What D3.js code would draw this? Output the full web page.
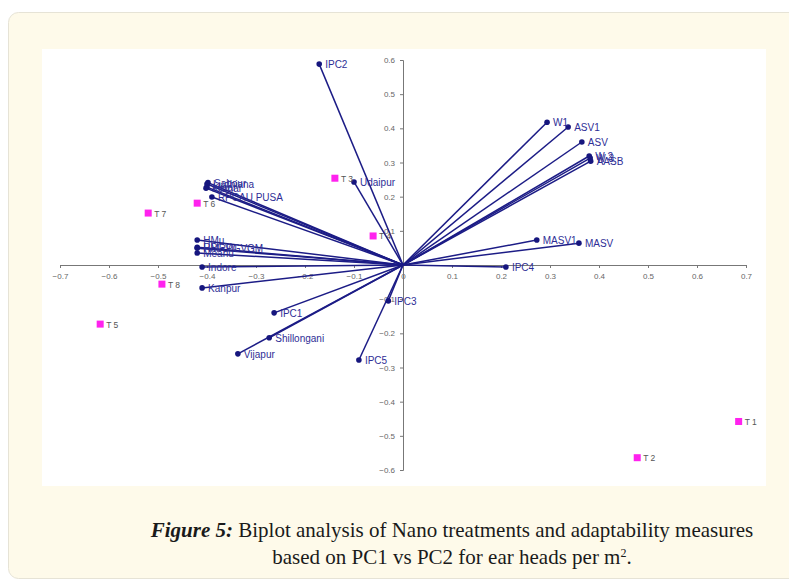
<!DOCTYPE html>
<html lang="en">
<head>
<meta charset="UTF-8">
<title>Biplot PC1 vs PC2</title>
<script src="https://cdnjs.cloudflare.com/ajax/libs/d3/7.8.5/d3.min.js"></script>
<style>
    body { margin: 0; background: #fff; }
    svg { display: block; }
    .vec { stroke: #1c1c86; stroke-width: 1.5px; }
    .vlab { fill: #2e2e96; font-family: Arial, "Liberation Sans", sans-serif; font-size: 10px; }
    .tlab { fill: #555; font-family: Arial, "Liberation Sans", sans-serif; font-size: 8.5px; }
    .axis path, .axis line { stroke: #777; }
    .axis text { fill: #666; font-family: Arial, "Liberation Sans", sans-serif; font-size: 8px; }
</style>
</head>
<body>
<svg width="789" height="585"></svg>
<script>
// genotypes / adaptability measures (vectors)
var vecNames = ["IPC2", "W1", "ASV1", "ASV", "W 2", "W 3", "AASB", "MASV1", "MASV", "IPC4",
    "Udaipur", "Sabour", "Ludhiana", "Hisar", "Karnal", "RPCAU PUSA",
    "HMu", "RPGVu", "HMRPGVGM", "Meanu", "Indore", "Kanpur",
    "IPC1", "Shillongani", "Vijapur", "IPC3", "IPC5"];
var vecX = [-0.171, 0.294, 0.337, 0.365, 0.38, 0.382, 0.383, 0.273, 0.359, 0.21,
    -0.10, -0.398, -0.40, -0.40, -0.402, -0.39,
    -0.42, -0.42, -0.42, -0.42, -0.41, -0.41,
    -0.263, -0.273, -0.337, -0.03, -0.09];
var vecY = [0.588, 0.418, 0.404, 0.36, 0.319, 0.313, 0.304, 0.073, 0.064, -0.006,
    0.243, 0.241, 0.237, 0.228, 0.225, 0.199,
    0.073, 0.052, 0.049, 0.035, -0.006, -0.067,
    -0.14, -0.213, -0.26, -0.105, -0.278];

// treatments
var treatNames = ["T 1", "T 2", "T 3", "T 4", "T 5", "T 6", "T 7", "T 8"];
var treatX = [0.685, 0.478, -0.139, -0.061, -0.618, -0.42, -0.52, -0.492];
var treatY = [-0.458, -0.564, 0.254, 0.085, -0.173, 0.181, 0.152, -0.056];

var xTicks = [-0.7, -0.6, -0.5, -0.4, -0.3, -0.2, -0.1, 0, 0.1, 0.2, 0.3, 0.4, 0.5, 0.6, 0.7];
var yTicks = [-0.6, -0.5, -0.4, -0.3, -0.2, -0.1, 0.1, 0.2, 0.3, 0.4, 0.5, 0.6];

var svg = d3.select("svg");

// cream figure box
svg.append("rect")
    .attr("x", 8.5).attr("y", 12.5)
    .attr("width", 800).attr("height", 566)
    .attr("rx", 10)
    .style("fill", "#fefaea")
    .style("stroke", "#e6e3d6");

svg.append("rect")
    .attr("x", 42).attr("y", 49)
    .attr("width", 724).attr("height", 437)
    .style("fill", "#fff");

var x = d3.scaleLinear().domain([-0.7, 0.7]).range([60, 746]);
var y = d3.scaleLinear().domain([-0.6, 0.6]).range([470, 60]);

var fmt = function (d) { return d === 0 ? "0" : d3.format(".1f")(d); };

svg.append("g")
    .attr("class", "axis")
    .attr("transform", "translate(0," + y(0) + ")")
    .call(d3.axisBottom(x).tickValues(xTicks).tickFormat(fmt).tickSize(3).tickPadding(5).tickSizeOuter(0));

svg.append("g")
    .attr("class", "axis")
    .attr("transform", "translate(" + x(0) + ",0)")
    .call(d3.axisLeft(y).tickValues(yTicks).tickFormat(fmt).tickSize(3).tickPadding(5).tickSizeOuter(3));

var vecData = vecNames.map(function (n, i) { return {name: n, x: vecX[i], y: vecY[i]}; });
var treatData = treatNames.map(function (n, i) { return {name: n, x: treatX[i], y: treatY[i]}; });

// vectors from origin
svg.selectAll(".vec")
    .data(vecData)
    .enter()
    .append("line")
    .classed("vec", true)
    .attr("x1", x(0)).attr("y1", y(0))
    .attr("x2", function (d) { return x(d.x); })
    .attr("y2", function (d) { return y(d.y); });

svg.selectAll(".vdot")
    .data(vecData)
    .enter()
    .append("circle")
    .attr("cx", function (d) { return x(d.x); })
    .attr("cy", function (d) { return y(d.y); })
    .attr("r", 2.8)
    .style("fill", "#16167e");

svg.selectAll(".vlab")
    .data(vecData)
    .enter()
    .append("text")
    .classed("vlab", true)
    .attr("x", function (d) { return x(d.x) + 6; })
    .attr("y", function (d) { return y(d.y) + 4; })
    .text(function (d) { return d.name; });

// treatments
svg.selectAll(".tsq")
    .data(treatData)
    .enter()
    .append("rect")
    .attr("x", function (d) { return x(d.x) - 3.5; })
    .attr("y", function (d) { return y(d.y) - 3.5; })
    .attr("width", 7).attr("height", 7)
    .style("fill", "#ff22ee");

svg.selectAll(".tlab")
    .data(treatData)
    .enter()
    .append("text")
    .classed("tlab", true)
    .attr("x", function (d) { return x(d.x) + 6; })
    .attr("y", function (d) { return y(d.y) + 3.5; })
    .text(function (d) { return d.name; });

// caption
var cap = svg.append("g")
    .style("font-family", "'Liberation Serif', 'DejaVu Serif', serif")
    .style("font-size", "21px")
    .style("fill", "#1a1a1a")
    .attr("text-anchor", "middle");

var line1 = cap.append("text")
    .attr("x", 452).attr("y", 537);
line1.append("tspan").style("font-weight", "bold").style("font-style", "italic").text("Figure 5:");
line1.append("tspan").text(" Biplot analysis of Nano treatments and adaptability measures");

var line2 = cap.append("text")
    .attr("x", 452).attr("y", 564);
line2.append("tspan").text("based on PC1 vs PC2 for ear heads per m");
line2.append("tspan").attr("baseline-shift", "super").style("font-size", "12px").text("2");
line2.append("tspan").text(".");
</script>
</body>
</html>
